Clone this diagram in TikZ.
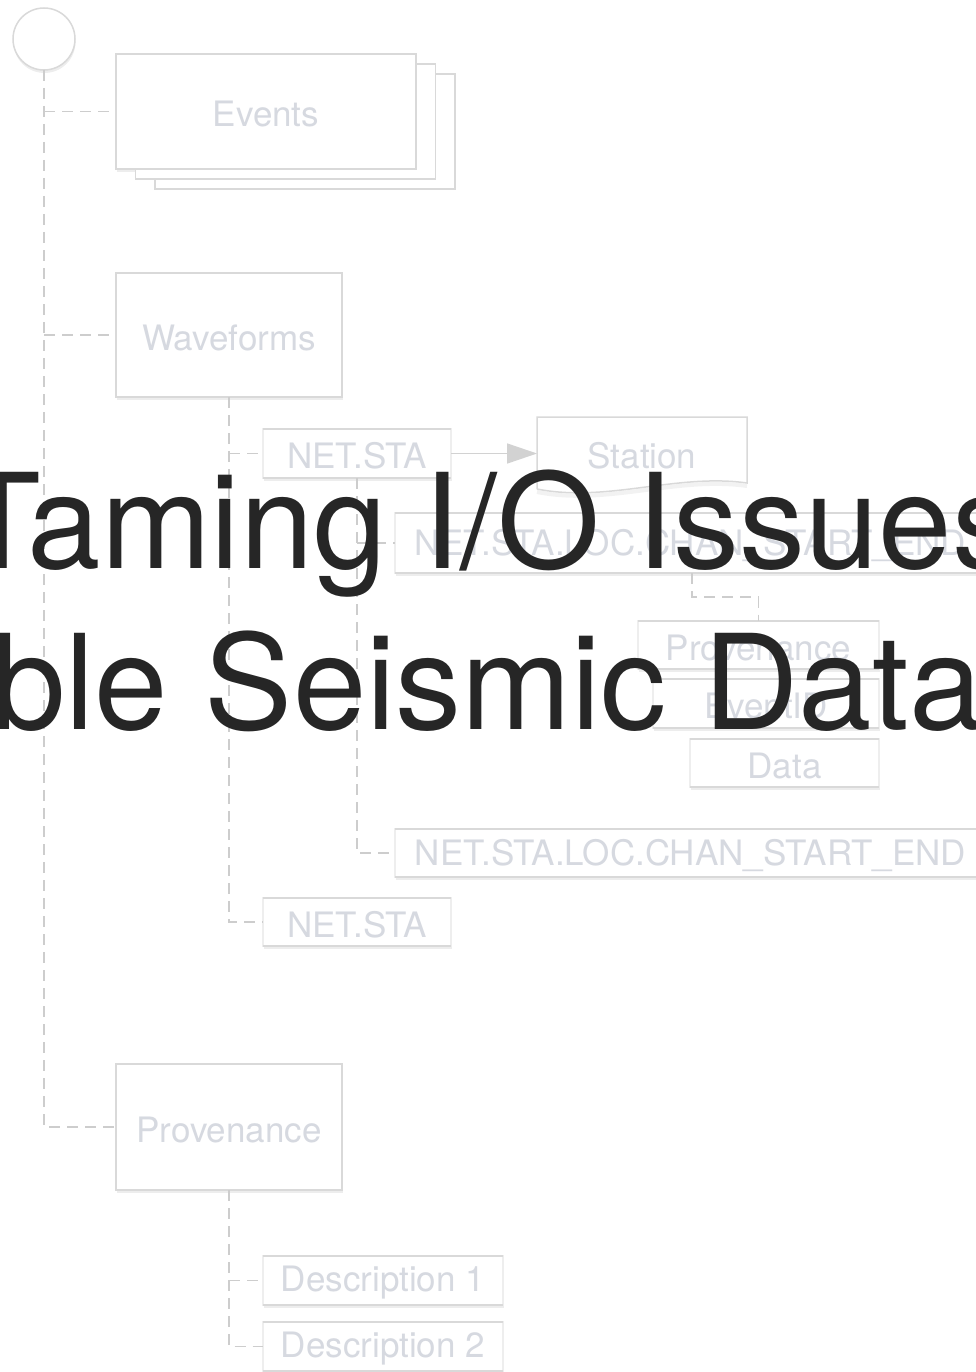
\documentclass[tikz,border=0pt]{standalone}
\usepackage{fontspec}
\setmainfont{TeX Gyre Heros}
\usetikzlibrary{shadows,arrows.meta}

\definecolor{boxline}{HTML}{D9D9D9}
\definecolor{sideline}{HTML}{EEEEEE}
\definecolor{labeltext}{HTML}{D6D9E0}
\definecolor{treeline}{HTML}{CDCDCD}
\definecolor{arrowgray}{HTML}{D2D2D2}
\definecolor{titletext}{HTML}{262626}

% labels sit a little below the optical centre of their boxes
\newcommand\boxlabel[1]{\raisebox{-2.5pt}[\height][\depth]{#1}}

\tikzset{
  softshadow/.style={drop shadow={opacity=0.07, shadow xshift=0.5pt, shadow yshift=-3pt, fill=black}},
  labelfont/.style={text=labeltext, font=\fontsize{35}{41}\selectfont},
  bigbox/.style={draw=boxline, fill=white, line width=1.5pt, inner sep=0pt, outer sep=0pt, labelfont, softshadow},
  tagbox/.style={draw=sideline, fill=white, line width=1.2pt, inner sep=0pt, outer sep=0pt, minimum height=48pt, labelfont, softshadow},
  tagedge/.style={draw=boxline, line width=1.5pt},
  tree/.style={draw=treeline, line width=1.5pt, dash pattern=on 11pt off 7pt},
  rootdot/.style={circle, draw=boxline, fill=white, line width=1.5pt, minimum size=62pt, inner sep=0pt, outer sep=0pt, softshadow},
  titleline/.style={anchor=base west, inner sep=0pt, text=titletext, font=\fontsize{132}{160}\selectfont},
}

\begin{document}
\begin{tikzpicture}[x=1pt, y=-1pt]
\useasboundingbox (0,0) rectangle (976,1372);
\clip (0,0) rectangle (976,1372);
\fill[white] (0,0) rectangle (976,1372);

% root of the tree
\node[rootdot] (root) at (44,39) {};

% top-level groups
\node[bigbox, minimum width=300pt, minimum height=115pt,
      double copy shadow={shadow xshift=19.5pt, shadow yshift=-10pt, draw=boxline, fill=white, line width=1.5pt}]
      (events) at (266,111.5) {\boxlabel{Events}};
\node[bigbox, minimum width=226pt, minimum height=124pt] (wave) at (229,335) {\boxlabel{Waveforms}};
\node[bigbox, minimum width=226pt, minimum height=126pt] (provbig) at (229,1127) {\boxlabel{Provenance}};

% waveform entries
\node[tagbox, minimum width=188pt, minimum height=49pt] (ns1) at (357,453.5) {\boxlabel{NET.STA}};
\node[tagbox, minimum width=188pt] (ns2) at (357,922) {\boxlabel{NET.STA}};
\node[tagbox, minimum width=591pt, minimum height=60pt] (nslc1) at (690.5,543) {\boxlabel{NET.STA.LOC.CHAN\_START\_END}};
\node[tagbox, minimum width=591pt] (nslc2) at (690.5,853) {\boxlabel{NET.STA.LOC.CHAN\_START\_END}};

% attributes of a trace
\node[tagbox, minimum width=241pt] (provsm) at (758.5,645) {\boxlabel{Provenance}};
\node[tagbox, minimum width=226pt, minimum height=49pt] (eventid) at (766,703.5) {\boxlabel{EventID}};
\node[tagbox, minimum width=189pt] (data) at (784.5,763) {\boxlabel{Data}};

% provenance entries
\node[tagbox, minimum width=240pt, minimum height=49pt] (desc1) at (383,1280.5) {\boxlabel{Description 1}};
\node[tagbox, minimum width=240pt, minimum height=49pt] (desc2) at (383,1346.5) {\boxlabel{Description 2}};

% stronger top and bottom edges of the tag boxes
\foreach \n in {ns1,ns2,nslc1,nslc2,provsm,eventid,data,desc1,desc2}{
  \draw[tagedge] (\n.north west) -- (\n.north east) (\n.south west) -- (\n.south east);
}

% station document with a wavy lower edge
\node[inner sep=0pt, outer sep=0pt, minimum width=210pt, minimum height=70pt, labelfont] (station) at (642,452) {\raisebox{-4pt}[\height][\depth]{Station}};
\draw[black, opacity=0.05, line width=4pt]
  ([yshift=-5pt]station.south west) .. controls +(70,14) and +(-70,-10) .. ([yshift=1pt]station.south east);
\draw[boxline, line width=1.5pt]
  ([yshift=-2pt]station.south west) -- (station.north west) -- (station.north east)
  -- ([yshift=4pt]station.south east)
  .. controls +(-70,-10) and +(70,14) .. ([yshift=-2pt]station.south west);

% tree connectors
\draw[tree] (root.south) |- (provbig.west);
\draw[tree] (root.south |- events.west) -- (events.west);
\draw[tree] (root.south |- wave.west) -- (wave.west);
\draw[tree] (wave.south) |- (ns2.west);
\draw[tree] (wave.south |- ns1.west) -- (ns1.west);
\draw[tree] (ns1.south) |- (nslc2.west);
\draw[tree] (ns1.south |- nslc1.west) -- (nslc1.west);
\coordinate (bend) at (692,597);
\draw[tree] (bend |- nslc1.south) -- (bend) -| (provsm.north);
\draw[tree] (provbig.south) |- (desc2.west);
\draw[tree] (provbig.south |- desc1.west) -- (desc1.west);

% link from a station code to its station record
\draw[arrowgray, line width=1.5pt, -{Triangle[length=30pt, width=20pt]}] (ns1.east) -- (ns1.east -| station.west);

% title
\node[titleline] (title1) at (-40,568) {Taming I/O Issues};
\node[titleline] (title2) at (-8,729) {ble Seismic Data};
\end{tikzpicture}
\end{document}
